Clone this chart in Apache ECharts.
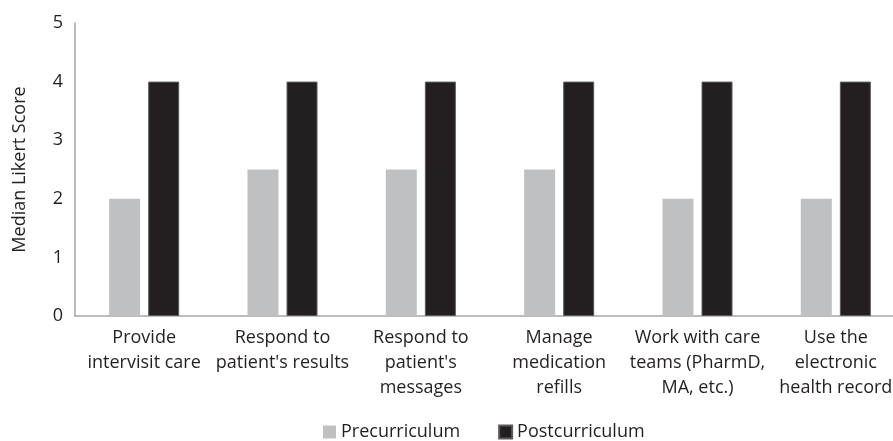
<!DOCTYPE html>
<html>
<head>
<meta charset="utf-8">
<script src="https://cdn.jsdelivr.net/npm/echarts@6/dist/echarts.min.js"></script>
<style>
  html, body { margin: 0; padding: 0; background: #fff; }
  #chart { width: 893px; height: 441px; }
</style>
</head>
<body>
<div id="chart"></div>
<script>
const categories = [
  "Provide\nintervisit care",
  "Respond to\npatient's results",
  "Respond to\npatient's\nmessages",
  "Manage\nmedication\nrefills",
  "Work with care\nteams (PharmD,\nMA, etc.)",
  "Use the\nelectronic\nhealth record"
];
const preCurriculum = [2, 2.5, 2.5, 2.5, 2, 2];
const postCurriculum = [4, 4, 4, 4, 4, 4];
const yTicks = { min: 0, max: 5, interval: 1 };

const font = "'Open Sans', 'Noto Sans', sans-serif";
const textColor = "#231f20";

const chart = echarts.init(document.getElementById("chart"));
const option = {
  animation: false,
  textStyle: { fontFamily: font },
  // plot runs past the right edge, as in the cropped original
  grid: { left: 75, width: 830, top: 23, height: 293, outerBoundsMode: "none" },
  legend: {
    top: 423,
    left: 323,
    padding: 0,
    itemWidth: 13,
    itemHeight: 13,
    itemGap: 38,
    icon: "rect",
    textStyle: { fontSize: 18, color: textColor, fontFamily: font },
    data: ["Precurriculum", "Postcurriculum"]
  },
  xAxis: {
    type: "category",
    data: categories,
    axisLine: { lineStyle: { color: "#a6a6a6", width: 1.5 } },
    axisTick: { show: false },
    axisLabel: {
      interval: 0,
      fontSize: 18,
      lineHeight: 25,
      color: textColor,
      margin: 9,
      fontFamily: font
    }
  },
  yAxis: {
    type: "value",
    min: yTicks.min,
    max: yTicks.max,
    interval: yTicks.interval,
    name: "Median Likert Score",
    nameLocation: "middle",
    nameGap: 46,
    nameTextStyle: { fontSize: 18, color: textColor, fontFamily: font },
    axisLine: { show: true, lineStyle: { color: "#a6a6a6", width: 1.5 } },
    axisTick: { show: false },
    splitLine: { show: false },
    axisLabel: { fontSize: 18, color: textColor, margin: 12, fontFamily: font }
  },
  series: [
    {
      name: "Precurriculum",
      type: "bar",
      data: preCurriculum,
      barWidth: "22.4%",
      barGap: "26%",
      itemStyle: { color: "#bfc0c2" }
    },
    {
      name: "Postcurriculum",
      type: "bar",
      data: postCurriculum,
      barWidth: "22.4%",
      itemStyle: { color: "#231f20", borderColor: "#5a5a5a", borderWidth: 1 }
    }
  ]
};
chart.setOption(option);
</script>
</body>
</html>
